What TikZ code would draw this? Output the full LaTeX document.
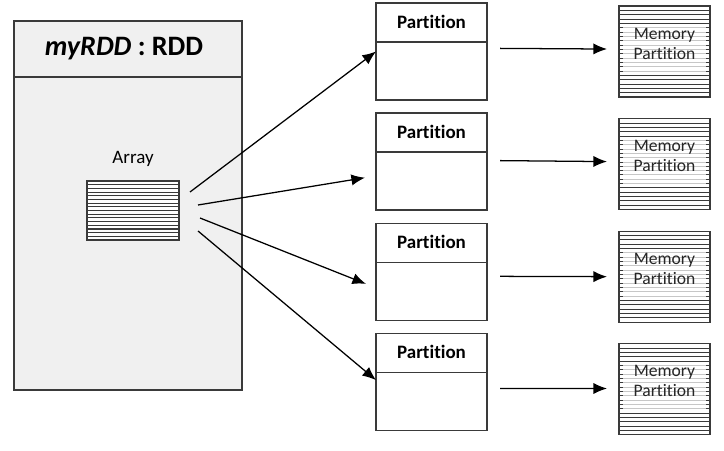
\documentclass[tikz,border=0pt]{standalone}
\usepackage{fontspec}
\setmainfont{Carlito}[Ligatures=NoCommon]
\usetikzlibrary{positioning, arrows.meta, calc}

\definecolor{boxline}{HTML}{3A3A3A}
\definecolor{rddfill}{HTML}{F0F0F0}

\begin{document}
\begin{tikzpicture}
		\tikzset{
			>={Latex[length=3.4mm, width=2.8mm]},
			rddbox/.style={draw=boxline, line width=1pt, fill=rddfill, minimum width=5.7cm, minimum height=9.225cm},
			partbox/.style={draw=boxline, line width=1pt, fill=white, minimum width=2.775cm, minimum height=2.425cm},
			membox/.style={draw=boxline, line width=0.8pt, fill=white, minimum width=2.275cm, minimum height=2.275cm},
			arraybox/.style={draw=boxline, line width=0.8pt, fill=white, minimum width=2.3cm, minimum height=1.475cm},
			parttitle/.style={font=\fontsize{13.5}{15}\selectfont\bfseries},
			memtext/.style={font=\fontsize{12.5}{14.2}\selectfont, align=center, text=black!85},
			link/.style={->, black, line width=0.9pt},
			every node/.style={inner sep=0pt, outer sep=0pt}
		}
		\useasboundingbox (0,0) rectangle (18.1,11.25);
		
		% RDD object
		\node[rddbox] (rdd) at (3.2,6.1125) {};
		\draw[boxline, line width=1pt] ($(rdd.north west)+(0,-1.4)$) -- ($(rdd.north east)+(0,-1.4)$);
		\node[font=\fontsize{20}{24}\selectfont\bfseries] (rddtitle) at ($(rdd.north)+(-0.1,-0.7)$) {\textit{myRDD} : RDD};
		
		% Array
		\node[arraybox] (arr) at (3.325,5.9875) {};
		\node[font=\fontsize{13.5}{15}\selectfont, above=0.35cm of arr] (arrtitle) {Array};
		\foreach \k in {1,...,15}
			\draw[boxline, line width=0.8pt] ($(arr.north west)+(0,-\k*0.0922)$) -- ++(2.3,0);
		
		% Partitions
		\node[partbox] (p1) at (10.7875,9.9625) {};
		\node[partbox, below=0.33cm of p1] (p2) {};
		\node[partbox, below=0.33cm of p2] (p3) {};
		\node[partbox, below=0.33cm of p3] (p4) {};
		\foreach \p in {p1,p2,p3,p4} {
			\draw[boxline, line width=1pt] ($(\p.north west)+(0,-0.975)$) -- ($(\p.north east)+(0,-0.975)$);
			\node[parttitle] (\p t) at ($(\p.north)+(0,-0.47)$) {Partition};
		}
		
		% Memory partitions
		\node[membox] (m1) at (16.6125,9.9625) {};
		\node[membox, below=0.54cm of m1] (m2) {};
		\node[membox, below=0.54cm of m2] (m3) {};
		\node[membox, below=0.54cm of m3] (m4) {};
		\foreach \m in {m1,m2,m3,m4} {
			\foreach \k in {1,...,4,16,17,...,20}
				\draw[boxline, line width=0.6pt] ($(\m.north west)+(0,-\k*0.1083)$) -- ++(2.275,0);
			\foreach \k in {5,...,15} {
				\draw[black!22, line width=0.6pt] ($(\m.north west)+(0,-\k*0.1083)$) -- ++(2.275,0);
				\draw[boxline, line width=0.6pt] ($(\m.north west)+(0,-\k*0.1083)$) -- ++(0.1,0);
				\draw[boxline, line width=0.6pt] ($(\m.north east)+(0,-\k*0.1083)$) -- ++(-0.1,0);
			}
			\node[memtext] (\m t) at ($(\m.center)+(0,0.2)$) {Memory\\Partition};
		}
		
		% Arrows from the array
		\coordinate (a1) at (4.75,6.45);
		\coordinate (a2) at (4.95,6.125);
		\coordinate (a3) at (5.0,5.8);
		\coordinate (a4) at (4.95,5.475);
		\coordinate (e2) at ($(p2.west)+(-0.275,-0.4)$);
		\coordinate (e3) at ($(p3.west)+(-0.25,-0.3)$);
		\draw[link] (a1) -- (p1.west);
		\draw[link] (a2) -- (e2);
		\draw[link] (a3) -- (e3);
		\draw[link] (a4) -- ($(p4.west)+(0,0.05)$);
		
		% Arrows to memory
		\draw[link, shorten <=0.33cm, shorten >=0.3cm] ($(p1.east)+(0,0.08)$) -- ($(m1.west)+(0,0.06)$);
		\draw[link, shorten <=0.33cm, shorten >=0.3cm] ($(p2.east)+(0,0.03)$) -- ($(m2.west)+(0,0.06)$);
		\draw[link, shorten <=0.33cm, shorten >=0.3cm] ($(p3.east)+(0,-0.11)$) -- ($(m3.west)+(0,0)$);
		\draw[link, shorten <=0.33cm, shorten >=0.3cm] ($(p4.east)+(0,-0.16)$) -- ($(m4.west)+(0,0.02)$);
		
	\end{tikzpicture}
\end{document}
